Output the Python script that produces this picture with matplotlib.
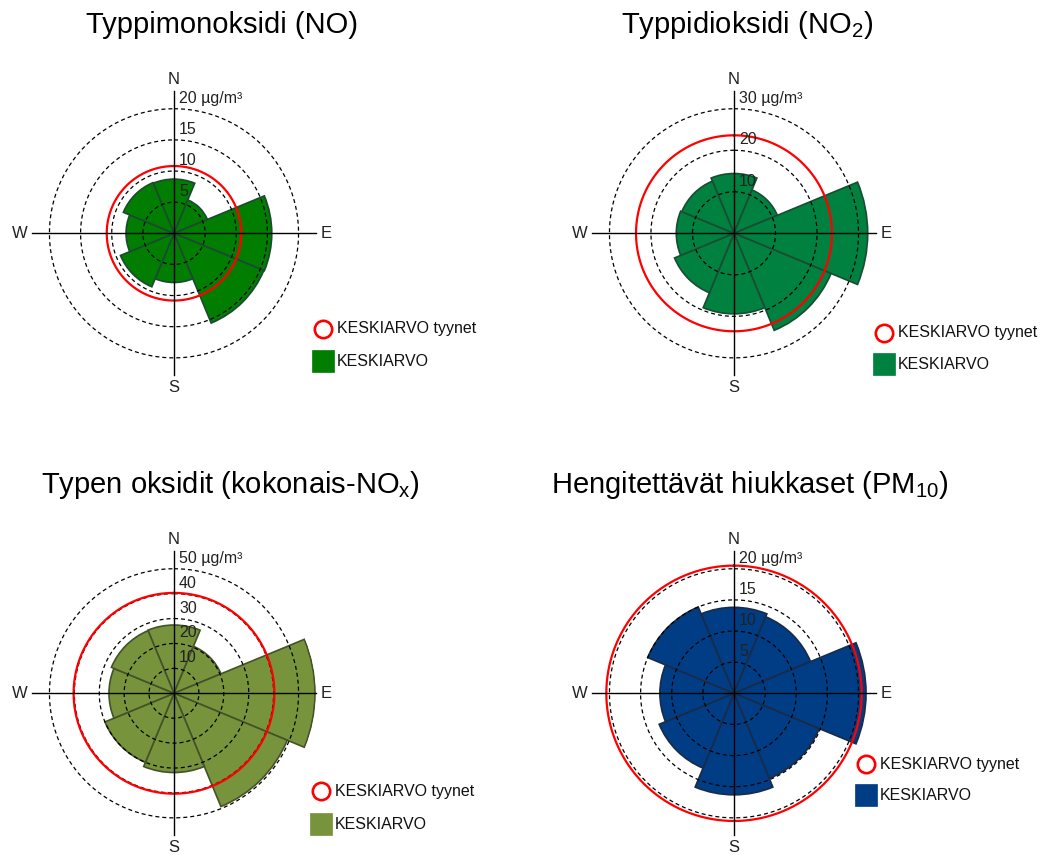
import numpy as np
import matplotlib
matplotlib.use("Agg")
import matplotlib.pyplot as plt
from matplotlib.transforms import offset_copy
from matplotlib.lines import Line2D

plt.rcParams['font.family'] = ['Liberation Sans', 'DejaVu Sans']
plt.rcParams['mathtext.fontset'] = 'custom'
plt.rcParams['mathtext.rm'] = 'Liberation Sans'
plt.rcParams['mathtext.it'] = 'Liberation Sans:italic'
plt.rcParams['mathtext.bf'] = 'Liberation Sans:bold'

# Wind direction sectors (degrees, clockwise from north)
directions = ["N", "NE", "E", "SE", "S", "SW", "W", "NW"]
sector_deg = [0, 45, 90, 135, 180, 225, 270, 315]

# Mean concentration per wind sector, µg/m³
no_mean = [8.7, 5.8, 15.7, 15.6, 7.9, 9.3, 7.7, 8.8]
no2_mean = [14.4, 11.3, 32.2, 25.3, 19.4, 15.5, 13.9, 13.6]
nox_mean = [27.4, 20.4, 56.6, 49.2, 31.8, 30.0, 26.1, 27.2]
pm10_mean = [13.8, 13.3, 21.2, 14.8, 16.3, 13.0, 11.9, 15.0]

# Mean concentration during calm conditions
no_calm = 10.8
no2_calm = 23.6
nox_calm = 40.3
pm10_calm = 20.5

# Ring values for each rose
no_rings = [5, 10, 15, 20]
no2_rings = [10, 20, 30]
nox_rings = [10, 20, 30, 40, 50]
pm10_rings = [5, 10, 15, 20]

titles = [
    "Typpimonoksidi (NO)",
    r"Typpidioksidi (NO$_\mathrm{2}$)",
    r"Typen oksidit (kokonais-NO$_\mathrm{x}$)",
    r"Hengitettävät hiukkaset (PM$_\mathrm{10}$)",
]
legend_calm = "KESKIARVO tyynet"
legend_mean = "KESKIARVO"
unit = "µg/m³"

W, H = 1045, 855
fig = plt.figure(figsize=(W / 100, H / 100), dpi=100)


def fx(x):
    return x / W


def fy(y):
    return 1 - y / H


panels = [
    dict(vals=no_mean, calm=no_calm, rings=no_rings, color="#017D01", edge="#1B4A30",
         center=(174, 233.3), title=titles[0], title_xy=(221.5, 33),
         leg=(323, 329, 361)),
    dict(vals=no2_mean, calm=no2_calm, rings=no2_rings, color="#00813F", edge="#1A4C33",
         center=(734, 233.3), title=titles[1], title_xy=(747, 33),
         leg=(884, 333, 364)),
    dict(vals=nox_mean, calm=nox_calm, rings=nox_rings, color="#77933C", edge="#435228",
         center=(174, 693.3), title=titles[2], title_xy=(230.5, 493),
         leg=(321, 791, 824)),
    dict(vals=pm10_mean, calm=pm10_calm, rings=pm10_rings, color="#003D84", edge="#1A2B48",
         center=(734, 693.3), title=titles[3], title_xy=(750, 493),
         leg=(866, 764, 795)),
]

RPX = 142  # axis half-length in pixels
theta_c = np.deg2rad(sector_deg)
width = np.deg2rad(45)
circle_t = np.linspace(0, 2 * np.pi, 721)

for p in panels:
    cx, cy = p["center"]
    ax = fig.add_axes([fx(cx - RPX), fy(cy + RPX), 2 * RPX / W, 2 * RPX / H],
                      projection="polar")
    ax.set_theta_zero_location("N")
    ax.set_theta_direction(-1)
    rmax = p["rings"][-1] * 1.14
    ax.set_ylim(0, rmax)
    ax.set_axis_off()

    ax.bar(theta_c, p["vals"], width=width, bottom=0, align="center",
           color=p["color"], edgecolor=p["edge"], linewidth=1.2, zorder=2)

    for r in p["rings"]:
        ax.plot(circle_t, np.full_like(circle_t, r), color="black",
                linewidth=0.9, linestyle=(0, (3.2, 2.4)), zorder=3)
        label = f"{r} {unit}" if r == p["rings"][-1] else f"{r}"
        tr = offset_copy(ax.transData, fig=fig, x=5, y=3, units="dots")
        ax.text(0, r, label, transform=tr, ha="left", va="bottom",
                fontsize=11.5, color="#222222", zorder=5, clip_on=False)

    ax.plot(circle_t, np.full_like(circle_t, p["calm"]), color="#FF0000",
            linewidth=1.6, zorder=4)

    for ang in [0, 90, 180, 270]:
        ax.plot([np.deg2rad(ang)] * 2, [0, rmax], color="black",
                linewidth=1.0, zorder=5, clip_on=False)

    compass = {"N": (0, 0, 12), "E": (90, 10, 0), "S": (180, 0, -12), "W": (270, -12, 0)}
    for lab, (ang, dx, dy) in compass.items():
        tr = offset_copy(ax.transData, fig=fig, x=dx, y=dy, units="dots")
        ax.text(np.deg2rad(ang), rmax, lab, transform=tr, ha="center", va="center",
                fontsize=12, color="#222222", clip_on=False)

    tx, ty = p["title_xy"]
    fig.text(fx(tx), fy(ty), p["title"], ha="center", va="baseline", fontsize=21,
             color="black")

    lx, ly1, ly2 = p["leg"]
    fig.add_artist(Line2D([fx(lx)], [fy(ly1)], marker="o", markersize=12.5,
                          markerfacecolor="white", markeredgecolor="#FF0000",
                          markeredgewidth=1.9, linestyle="none"))
    fig.add_artist(Line2D([fx(lx)], [fy(ly2)], marker="s", markersize=16,
                          markerfacecolor=p["color"], markeredgecolor=p["color"],
                          markeredgewidth=0.5, linestyle="none"))
    fig.text(fx(lx + 14), fy(ly1), legend_calm, ha="left", va="center",
             fontsize=11.5, color="#111111")
    fig.text(fx(lx + 14), fy(ly2), legend_mean, ha="left", va="center",
             fontsize=11.5, color="#111111")

fig.savefig("out.png", dpi=100, facecolor="white")
